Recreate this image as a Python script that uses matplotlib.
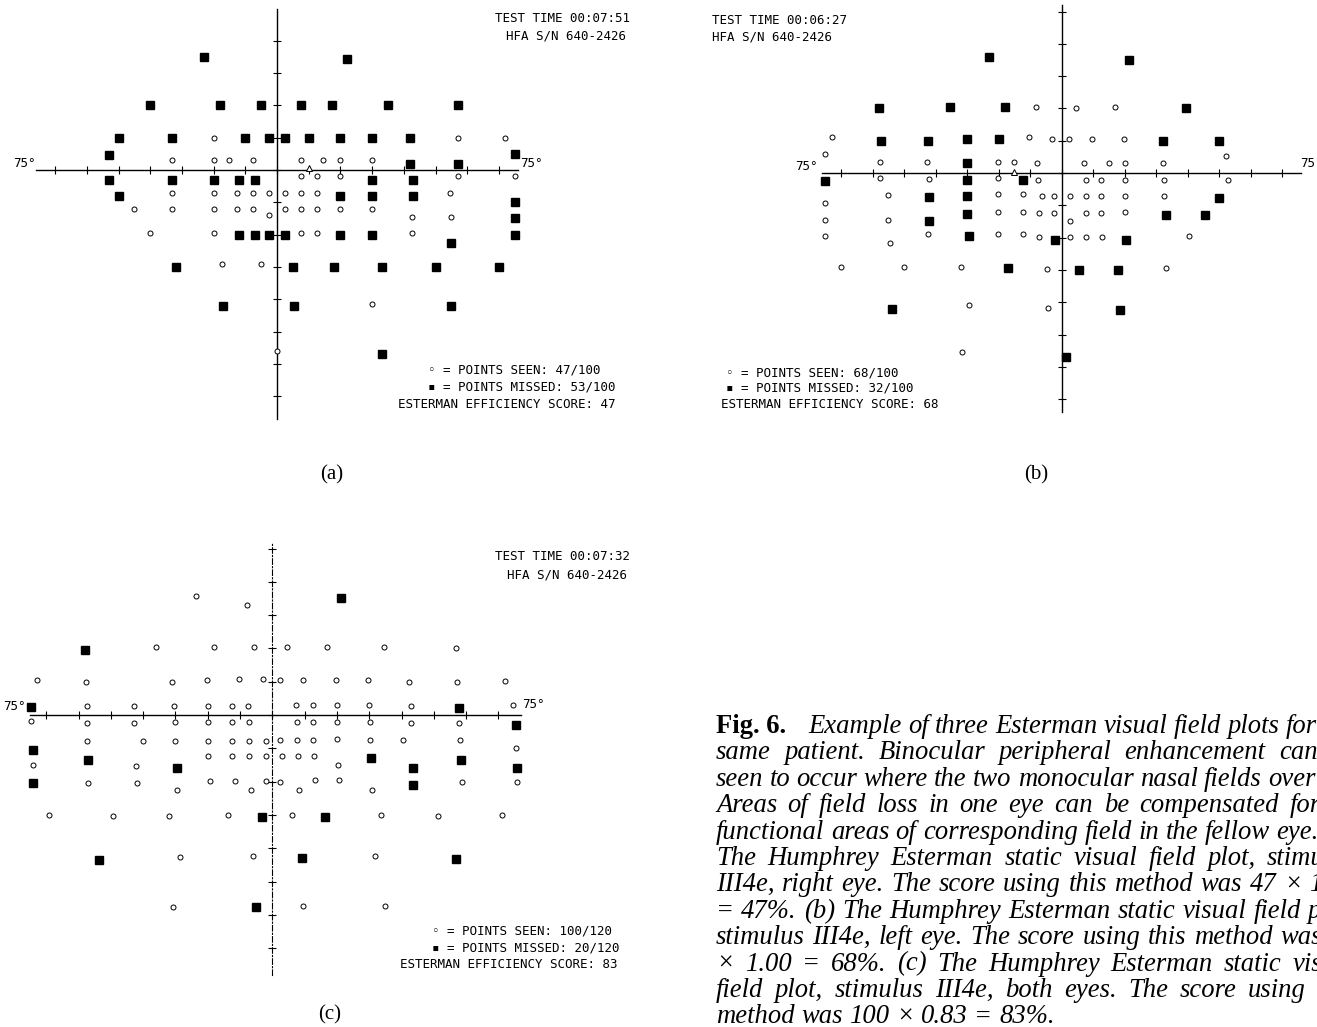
"""
Esterman visual field plots (right eye, left eye, both eyes) with caption.
"""

import numpy as np
import matplotlib
matplotlib.use("Agg")
import matplotlib.pyplot as plt

W, H = 1317, 1027
MONO = ["DejaVu Sans Mono", "DejaVu Sans"]
SERIF = "Liberation Serif"

# ---- data, in degrees (x: horizontal, y: vertical) ----
# (a) right eye
a_missed = [(-23, 35), (-40, 20), (-18, 20), (-5, 20), (-50, 10), (-33, 10), (-10, 10),
            (-2.5, 10), (-53, 4.5), (-53, -3), (-33, -3), (-20, -3), (-12, -3), (-7, -3),
            (-50, -8), (-12, -20), (-7, -20), (-2.5, -20), (-32, -30), (-17, -42),
            (22, 34.5), (7.5, 20), (17.5, 20), (35, 20), (57, 20), (2.6, 10), (10, 10),
            (20, 10), (30, 10), (42, 10), (75, 5), (42, 2), (57, 2), (30, -3), (43, -3),
            (20, -8), (30, -8), (43, -8), (75, -10), (75, -15), (2.6, -20), (20, -20),
            (30, -20), (75, -20), (55, -22.5), (5, -30), (18, -30), (33, -30), (50, -30),
            (70, -30), (5.4, -42), (55, -42), (33, -57)]
a_seen = [(-20, 10), (-33, 3), (-20, 3), (-15, 3), (-7.5, 3), (-33, -7), (-20, -7),
          (-12.5, -7), (-7.5, -7), (-2.5, -7), (-45, -12), (-33, -12), (-20, -12),
          (-12.5, -12), (-7.5, -12), (-2.5, -14), (-40, -19.5), (-20, -19.5), (-17.5, -29),
          (-5, -29), (0, -56),
          (57, 10), (72, 10), (7.5, 3), (14.5, 3), (20, 3), (30, 3), (7.5, -2), (12.5, -2),
          (20, -2), (57, -2), (75, -2), (2.6, -7), (7.5, -7), (12.5, -7), (54.5, -7),
          (2.6, -12), (7.5, -12), (12.5, -12), (20, -12), (30, -12), (42.5, -14.5),
          (55, -14.5), (7.5, -19.5), (12.5, -19.5), (42.5, -19.5), (30, -41.5)]
a_blind = [(10, 0.5)]

# (b) left eye
b_missed = [(-23, 36), (-58, 20), (-35.5, 20.5), (-18, 20.5), (-57.5, 10), (-42.5, 10),
            (-30, 10.5), (-20, 10.5), (-30, 3), (-75, -2.5), (-30, -2.2), (-12.4, -2.2),
            (-42, -7.3), (-30, -7.2), (-30, -12.7), (-42, -15), (-29.5, -19.6), (-17, -29.4),
            (-54, -42),
            (21.5, 35), (39.5, 20), (32, 10), (50, 10), (50, -7.7), (33, -13), (45.5, -13),
            (-2, -20.6), (20.5, -20.6), (5.6, -30), (18, -30), (18.5, -42.5), (1.4, -57)]
b_seen = [(-73, 11), (-10.5, 11), (-75.3, 5.8), (-57.7, 3.3), (-42.8, 3.3), (-20.3, 3.5),
          (-15.3, 3.5), (-57.7, -1.6), (-42, -1.9), (-20.3, -1.6), (-55, -6.7), (-20.3, -6.5),
          (-12.4, -6.5), (-75, -9.3), (-55, -14.4), (-20.3, -12), (-12.4, -12), (-75, -14.4),
          (-75, -19.4), (-54.5, -21.6), (-42.3, -19), (-20.3, -19), (-12.4, -19), (-70, -29),
          (-50, -29), (-32, -29), (-29.3, -41), (-31.6, -55.5),
          (-8.3, 20.5), (4.5, 20), (17, 20.5), (-3, 10.5), (2.2, 10.5), (9.7, 10.5),
          (19.8, 10.5), (32.2, 3), (52.3, 5.4), (-8, 3), (7.2, 3), (15, 3), (20, 3),
          (-7.4, -2.3), (7.6, -2.3), (12.6, -2.3), (20, -2.3), (32.4, -2.3), (52.7, -2.3),
          (-6.4, -7.2), (-2.3, -7.2), (2.7, -7.2), (7.8, -7.2), (12.6, -7.2), (20.2, -7.2),
          (32.4, -7.2), (-7.2, -12.4), (-2.3, -12.4), (7.8, -12.4), (12.6, -12.4),
          (20, -12.2), (2.7, -15), (-7.2, -19.8), (2.7, -19.8), (7.8, -19.8), (12.8, -19.8),
          (40.4, -19.6), (-4.6, -29.6), (33, -29.4), (-4.3, -41.8)]
b_blind = [(-15.3, 0.3)]

# (c) both eyes
c_missed = [(-58, 19.4), (-74.7, 2.4), (-74.2, -10.4), (-57, -13.4), (-29.4, -16),
            (-74, -20.4), (-3.3, -30.6), (-53.5, -43.4), (-5.2, -57.7),
            (21.4, 35), (57.7, 2), (75.3, -3), (30.7, -13), (43.6, -16), (58.4, -13.4),
            (75.8, -16), (43.7, -21), (16.3, -30.6), (9.3, -43), (57, -43.2)]
c_seen = [(-23.6, 35.6), (-7.9, 33), (-36, 20.4), (-18.2, 20.4), (-5.7, 20.4), (-72.7, 10.4),
          (-57.7, 10), (-31, 10), (-20.3, 10.4), (-10.3, 10.8), (-2.8, 10.8), (-57.4, 2.8),
          (-42.8, 2.6), (-30.4, 2.6), (-20, 2.8), (-12.4, 2.8), (-7.4, 2.8), (-74.7, -1.7),
          (-57.4, -2.4), (-42.7, -2.4), (-30, -2.2), (-19.8, -2.2), (-12.4, -2.2), (-7.2, -2.2),
          (-57.4, -7.9), (-40, -7.9), (-30, -7.7), (-19.8, -7.7), (-12.4, -7.7), (-7.2, -7.7),
          (-2.1, -7.7), (-74.2, -15), (-19.8, -12.4), (-12.4, -12.4), (-7.2, -12.4),
          (-2.1, -12.4), (-42.2, -15.2), (-57, -20.4), (-42, -20.4), (-19.3, -19.7),
          (-11.5, -19.7), (-1.8, -19.7), (-29.6, -22.6), (-6.7, -22.4), (-69, -30),
          (-49.2, -30.4), (-32, -30.2), (-13.8, -30), (-28.6, -42.7), (-5.9, -42.4),
          (-30.8, -57.6),
          (4.4, 20.4), (16.8, 20.4), (34.5, 20.3), (57, 20), (2.4, 10.4), (9.6, 10.6),
          (19.6, 10.4), (29.7, 10.4), (42.4, 10), (57.3, 10), (72, 10.3), (7.3, 2.9),
          (12.5, 2.9), (20, 2.9), (30, 2.9), (42.8, 2.6), (74.5, 2.9), (7.5, -2.1),
          (12.7, -2.1), (20, -2.1), (30.2, -2.1), (43, -2.4), (57.8, -2.4), (2.4, -7.4),
          (7.5, -7.4), (12.7, -7.4), (20, -7.1), (30.4, -7.4), (40.5, -7.6), (58, -7.6),
          (2.9, -12.4), (8, -12.4), (12.9, -12.2), (20.4, -15), (75.3, -10), (2.4, -20),
          (13.2, -19.6), (20.6, -19.6), (8.4, -22.4), (31, -22.4), (58.6, -20.2),
          (75.8, -20), (6, -30), (33.8, -30), (51.3, -30.2), (71, -30), (31.8, -42.4),
          (9.6, -57.4), (34.8, -57.4)]

test_times = ["00:07:51", "00:06:27", "00:07:32"]
seen_counts = ["47/100", "68/100", "100/120"]
missed_counts = ["53/100", "32/100", "20/120"]
scores = ["47", "68", "83"]
serial = "640-2426"

caption_lines = [
    "Example of three Esterman visual field plots for the",
    "same patient. Binocular peripheral enhancement can be",
    "seen to occur where the two monocular nasal fields overlap.",
    "Areas of field loss in one eye can be compensated for by",
    "functional areas of corresponding field in the fellow eye. (a)",
    "The Humphrey Esterman static visual field plot, stimulus",
    "III4e, right eye. The score using this method was 47 \u00d7 1.00",
    "= 47%. (b) The Humphrey Esterman static visual field plot,",
    "stimulus III4e, left eye. The score using this method was 68",
    "\u00d7 1.00 = 68%. (c) The Humphrey Esterman static visual",
    "field plot, stimulus III4e, both eyes. The score using this",
    "method was 100 \u00d7 0.83 = 83%.",
]


def fig_box(x0, y0, x1, y1):
    return [x0 / W, 1 - y1 / H, (x1 - x0) / W, (y1 - y0) / H]


def ftext(fig, x, y, s, **kw):
    return fig.text(x / W, 1 - y / H, s, **kw)


def field_axes(fig, box, center, scale, xspan, yspan, dashed=False):
    """Axes whose spines cross at fixation, laid over a pixel box."""
    x0, y0, x1, y1 = box
    cx, cy = center
    sx, sy = scale
    ax = fig.add_axes(fig_box(*box))
    ax.set_xlim((x0 - cx) / sx, (x1 - cx) / sx)
    ax.set_ylim((cy - y1) / sy, (cy - y0) / sy)
    ax.patch.set_alpha(0)
    ax.spines["top"].set_visible(False)
    ax.spines["right"].set_visible(False)
    for side in ("left", "bottom"):
        ax.spines[side].set_position(("data", 0))
        ax.spines[side].set_linewidth(1.0)
    ax.spines["bottom"].set_bounds(*xspan)
    ax.spines["left"].set_bounds(*yspan)
    if dashed:
        ax.spines["left"].set_linestyle((0, (5, 2, 1, 2)))
        ax.spines["left"].set_linewidth(0.8)
    ax.set_xticks(np.arange(-70, 71, 10))
    ax.set_yticks(np.arange(-70, yspan[1], 10))
    ax.tick_params(direction="inout", length=6, width=0.8,
                   labelbottom=False, labelleft=False)
    return ax


def draw_points(ax, seen, missed, blind=None):
    sx, sy = np.array(seen).T
    mx, my = np.array(missed).T
    ax.plot(sx, sy, ls="none", marker="o", ms=3.6, mfc="white", mec="black",
            mew=0.7, clip_on=False, zorder=3)
    ax.plot(mx, my, ls="none", marker="s", ms=5.8, color="black",
            clip_on=False, zorder=3)
    if blind:
        bx, by = np.array(blind).T
        ax.plot(bx, by, ls="none", marker="^", ms=5, mfc="white", mec="black",
                mew=0.7, clip_on=False, zorder=3)


def mono(fig, x, y, s, ha="left"):
    ftext(fig, x, y, s, family=MONO, fontsize=9, ha=ha, va="center")


fig = plt.figure(figsize=(W / 100, H / 100), dpi=100)
fig.patch.set_facecolor("white")

# (a)
ax_a = field_axes(fig, (0, 0, 660, 440), (277, 170), (3.17, 3.23), (-76, 76), (-77, 50))
draw_points(ax_a, a_seen, a_missed, a_blind)
mono(fig, 630, 19, f"TEST TIME {test_times[0]}", ha="right")
mono(fig, 626, 36, f"HFA S/N {serial}", ha="right")
mono(fig, 13, 163, "75\u00b0")
mono(fig, 520, 163, "75\u00b0")
mono(fig, 428, 370, f"\u25e6 = POINTS SEEN: {seen_counts[0]}")
mono(fig, 428, 387, f"\u25aa = POINTS MISSED: {missed_counts[0]}")
mono(fig, 398, 404, f"ESTERMAN EFFICIENCY SCORE: {scores[0]}")
ftext(fig, 332, 475, "(a)", family=SERIF, fontsize=15, ha="center", va="center")

# (b)
ax_b = field_axes(fig, (690, 0, 1317, 440), (1061.7, 173), (3.15, 3.23), (-76, 76), (-74, 52))
draw_points(ax_b, b_seen, b_missed, b_blind)
mono(fig, 712, 20, f"TEST TIME {test_times[1]}")
mono(fig, 712, 37, f"HFA S/N {serial}")
mono(fig, 818, 166, "75\u00b0", ha="right")
mono(fig, 1300, 163, "75\u00b0")
mono(fig, 726, 373, f"\u25e6 = POINTS SEEN: {seen_counts[1]}")
mono(fig, 726, 388, f"\u25aa = POINTS MISSED: {missed_counts[1]}")
mono(fig, 721, 404, f"ESTERMAN EFFICIENCY SCORE: {scores[1]}")
ftext(fig, 1036, 475, "(b)", family=SERIF, fontsize=15, ha="center", va="center")

# (c)
ax_c = field_axes(fig, (0, 520, 680, 1000), (272.3, 715), (3.23, 3.33), (-75, 77), (-78, 52),
                  dashed=True)
draw_points(ax_c, c_seen, c_missed)
mono(fig, 630, 557, f"TEST TIME {test_times[2]}", ha="right")
mono(fig, 627, 575, f"HFA S/N {serial}", ha="right")
mono(fig, 3, 707, "75\u00b0")
mono(fig, 522, 705, "75\u00b0")
mono(fig, 432, 931, f"\u25e6 = POINTS SEEN: {seen_counts[2]}")
mono(fig, 432, 948, f"\u25aa = POINTS MISSED: {missed_counts[2]}")
mono(fig, 400, 965, f"ESTERMAN EFFICIENCY SCORE: {scores[2]}")
ftext(fig, 330, 1015, "(c)", family=SERIF, fontsize=15, ha="center", va="center")

# caption, justified between the left margin and a right edge that the
# scanned page cuts off, as in the original
renderer = fig.canvas.get_renderer()
left, right = 716, 1356
probe = ftext(fig, 0, 0, caption_lines[4], family=SERIF, style="italic", fontsize=17.5)
cap_size = 17.5 * (right - left) / probe.get_window_extent(renderer).width
probe.remove()

ftext(fig, left, 733, "Fig. 6.", family=SERIF, fontsize=cap_size, weight="bold",
      va="baseline")
for i, line in enumerate(caption_lines):
    y = 733 + 26.4 * i
    x_start = 808 if i == 0 else left
    words = line.split(" ")
    texts = [ftext(fig, 0, y, w, family=SERIF, style="italic", fontsize=cap_size,
                   va="baseline") for w in words]
    widths = [t.get_window_extent(renderer).width for t in texts]
    space = cap_size * 100 / 72 * 0.25
    if i < len(caption_lines) - 1 and len(words) > 1:
        gap = max((right - x_start - sum(widths)) / (len(words) - 1), space * 0.3)
    else:
        gap = space
    x = x_start
    for t, w in zip(texts, widths):
        t.set_x(x / W)
        x += w + gap

fig.savefig("out.png", dpi=100)
